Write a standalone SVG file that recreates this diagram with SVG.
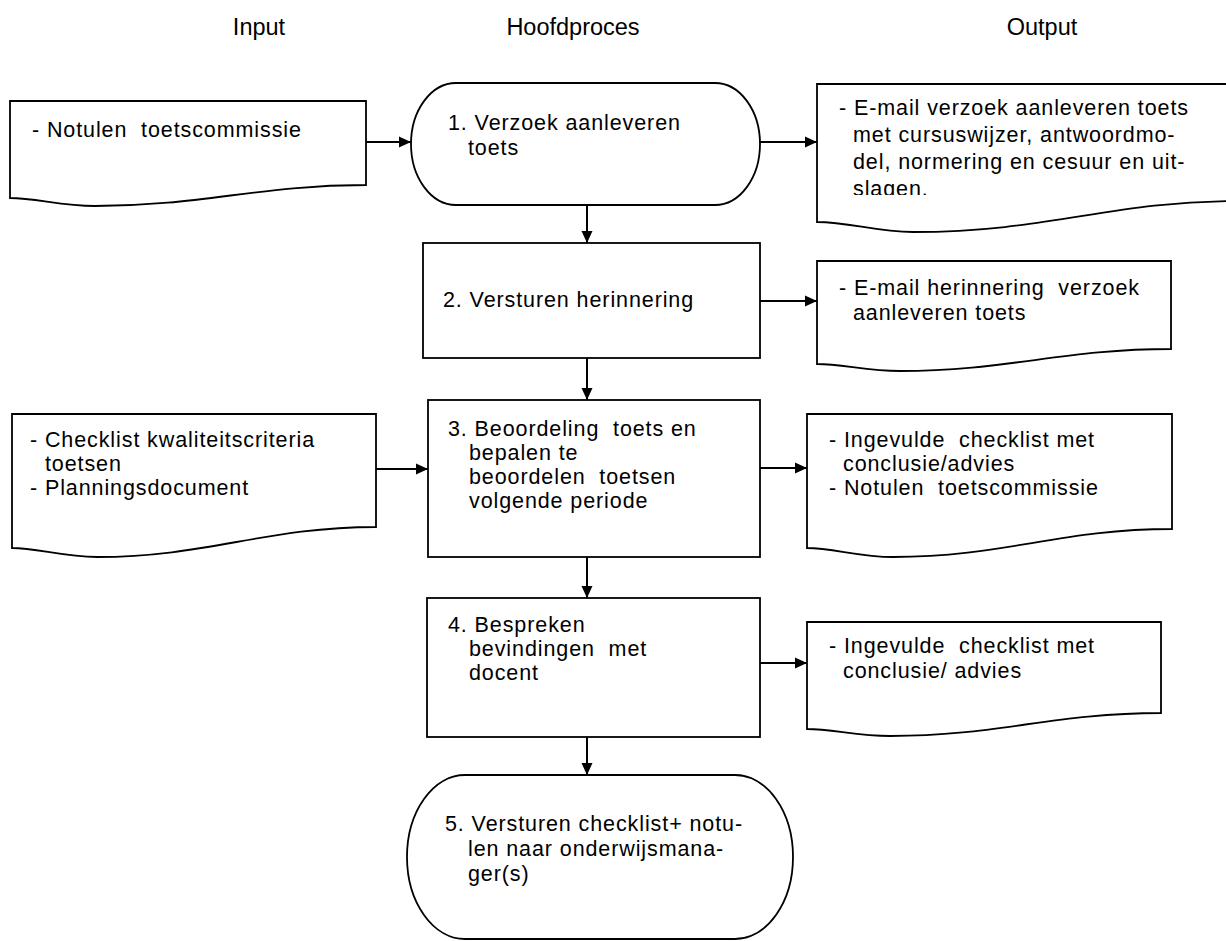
<svg xmlns="http://www.w3.org/2000/svg" width="1226" height="941" viewBox="0 0 1226 941">
<style>
.s{fill:#fff;stroke:#000;stroke-width:1.8}
.t{font-family:"Liberation Sans",Arial,sans-serif;font-size:21.5px;letter-spacing:0.9px;fill:#000;white-space:pre}
.h{font-family:"Liberation Sans",Arial,sans-serif;font-size:23.5px;fill:#000;text-anchor:middle}
.c{fill:none;stroke:#000;stroke-width:2;marker-end:url(#a)}
</style>
<defs>
<marker id="a" markerUnits="userSpaceOnUse" markerWidth="13" markerHeight="13" refX="12" refY="6.5" orient="auto"><path d="M0,1 L12,6.5 L0,12 Z" fill="#000"/></marker>
<clipPath id="cp1"><rect x="817" y="84" width="409" height="111"/></clipPath>
</defs>
<g id="headers">
<text class="h" x="259" y="35">Input</text>
<text class="h" x="573" y="35">Hoofdproces</text>
<text class="h" x="1042" y="35">Output</text>
</g>
<g id="in1">
<path class="s" d="M10,101 H366 V185 C258,185 203,206 95,206 C61,206 36,198 10,198 Z"/>
<text class="t" x="32" y="137">- Notulen  toetscommissie</text>
</g>
<g id="p1">
<rect class="s" x="411" y="83" width="349" height="122" rx="45" ry="61"/>
<text class="t" x="448" y="130" letter-spacing="0.3">1. Verzoek aanleveren</text>
<text class="t" x="468" y="155">toets</text>
</g>
<g id="out1">
<path class="s" d="M817,84 H1240 V201 C1110,201 1050,232 913,232 C875,232 850,222 817,222 Z"/>
<g clip-path="url(#cp1)">
<text class="t" x="839" y="115">- E-mail verzoek aanleveren toets</text>
<text class="t" x="853" y="142">met cursuswijzer, antwoordmo-</text>
<text class="t" x="853" y="169">del, normering en cesuur en uit-</text>
<text class="t" x="853" y="196">slagen.</text>
</g>
</g>
<g id="p2">
<rect class="s" x="423" y="243" width="337" height="115"/>
<text class="t" x="443" y="307">2. Versturen herinnering</text>
</g>
<g id="out2">
<path class="s" d="M817,261 H1171 V349 C1064,349 1006,371 900,371 C867,371 842,364 817,364 Z"/>
<text class="t" x="839" y="295">- E-mail herinnering  verzoek</text>
<text class="t" x="853" y="320">aanleveren toets</text>
</g>
<g id="in2">
<path class="s" d="M12,414 H376 V527 C265,527 208,557 97,557 C63,557 37,548 12,548 Z"/>
<text class="t" x="30" y="447">- Checklist kwaliteitscriteria</text>
<text class="t" x="45" y="471">toetsen</text>
<text class="t" x="30" y="495">- Planningsdocument</text>
</g>
<g id="p3">
<rect class="s" x="428" y="400" width="332" height="157"/>
<text class="t" x="448" y="436">3. Beoordeling  toets en</text>
<text class="t" x="469" y="460">bepalen te</text>
<text class="t" x="469" y="484">beoordelen  toetsen</text>
<text class="t" x="469" y="508" letter-spacing="0.5">volgende periode</text>
</g>
<g id="out3">
<path class="s" d="M807,414 H1172 V529 C1060,529 1004,557 893,557 C859,557 833,548 807,548 Z"/>
<text class="t" x="829" y="447">- Ingevulde  checklist met</text>
<text class="t" x="843" y="471">conclusie/advies</text>
<text class="t" x="829" y="495">- Notulen  toetscommissie</text>
</g>
<g id="p4">
<rect class="s" x="427" y="598" width="333" height="139"/>
<text class="t" x="448" y="632">4. Bespreken</text>
<text class="t" x="469" y="656">bevindingen  met</text>
<text class="t" x="469" y="680">docent</text>
</g>
<g id="out4">
<path class="s" d="M807,622 H1161 V713 C1053,713 998,736 890,736 C857,736 832,729 807,729 Z"/>
<text class="t" x="829" y="653">- Ingevulde  checklist met</text>
<text class="t" x="843" y="678">conclusie/ advies</text>
</g>
<g id="p5">
<rect class="s" x="407" y="775" width="386" height="164" rx="58" ry="82"/>
<text class="t" x="445" y="831" letter-spacing="0.4">5. Versturen checklist+ notu-</text>
<text class="t" x="468" y="856">len naar onderwijsmana-</text>
<text class="t" x="468" y="881">ger(s)</text>
</g>
<g id="connectors">
<path class="c" d="M366,142 H411"/>
<path class="c" d="M760,142 H817"/>
<path class="c" d="M587,205 V243"/>
<path class="c" d="M760,301 H817"/>
<path class="c" d="M587,358 V400"/>
<path class="c" d="M376,469 H428"/>
<path class="c" d="M760,468 H807"/>
<path class="c" d="M587,557 V598"/>
<path class="c" d="M760,663 H807"/>
<path class="c" d="M587,737 V775"/>
</g>
</svg>
